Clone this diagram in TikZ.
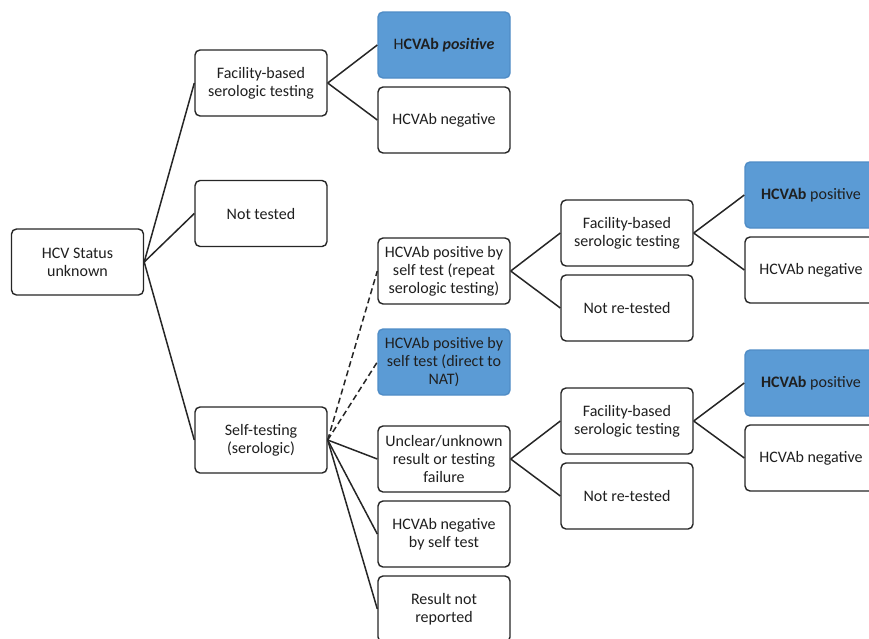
\documentclass[tikz,border=0pt]{standalone}
\usepackage{fontspec}
\setmainfont{Carlito}
\begin{document}
\begin{tikzpicture}[x=1pt,y=-1pt,
  box/.style={draw=black!85, line width=1.4pt, rounded corners=5pt, fill=white,
    minimum width=132pt, minimum height=66pt, inner sep=2pt, align=center,
    text=black!88, font=\fontsize{16}{18}\selectfont},
  bluebox/.style={box, draw=bluedark, fill=blueF},
  link/.style={line width=1.5pt, draw=black!85},
  dlink/.style={link, dash pattern=on 6pt off 3.5pt}]
\definecolor{blueF}{HTML}{5B9BD5}
\definecolor{bluedark}{HTML}{4F8CC6}
\useasboundingbox (0,0) rectangle (869,638);
\clip (0,0) rectangle (869,638);

\node[box] (hcv) at (77.5,262) {HCV Status\\unknown};
\node[box] (fac) at (261,83) {Facility-based\\serologic testing};
\node[box] (nt) at (261,213.5) {Not tested};
\node[box] (self) at (261,440) {Self-testing\\(serologic)};

\node[bluebox] (pos1) at (444,45) {H\textbf{CVAb \textit{positive}}};
\node[box] (neg1) at (444,120) {HCVAb negative};

\node[box] (rep) at (444,271) {HCVAb positive by\\self test (repeat\\serologic testing)};
\node[bluebox] (nat) at (444,362) {HCVAb positive by\\self test (direct to\\NAT)};
\node[box] (unc) at (444,459) {Unclear/unknown\\result or testing\\failure};
\node[box] (negs) at (444,534) {HCVAb negative\\by self test};
\node[box] (nrep) at (444,609) {Result not\\reported};

\node[box] (fac2) at (627,233) {Facility-based\\serologic testing};
\node[box] (nrt2) at (627,308) {Not re-tested};
\node[bluebox] (pos2) at (811,195) {\textbf{HCVAb} positive};
\node[box] (neg2) at (811,270) {HCVAb negative};

\node[box] (fac3) at (627,421) {Facility-based\\serologic testing};
\node[box] (nrt3) at (627,496) {Not re-tested};
\node[bluebox] (pos3) at (811,383) {\textbf{HCVAb} positive};
\node[box] (neg3) at (811,458) {HCVAb negative};

\draw[link] (hcv.east) -- (fac.west);
\draw[link] (hcv.east) -- (nt.west);
\draw[link] (hcv.east) -- (self.west);
\draw[link] (fac.east) -- (pos1.west);
\draw[link] (fac.east) -- (neg1.west);

\draw[dlink] (self.east) -- (rep.west);
\draw[dlink] (self.east) -- (nat.west);
\draw[link] (self.east) -- (unc.west);
\draw[link] (self.east) -- (negs.west);
\draw[link] (self.east) -- (nrep.west);

\draw[link] (rep.east) -- (fac2.west);
\draw[link] (rep.east) -- (nrt2.west);
\draw[link] (fac2.east) -- (pos2.west);
\draw[link] (fac2.east) -- (neg2.west);

\draw[link] (unc.east) -- (fac3.west);
\draw[link] (unc.east) -- (nrt3.west);
\draw[link] (fac3.east) -- (pos3.west);
\draw[link] (fac3.east) -- (neg3.west);
\end{tikzpicture}
\end{document}
